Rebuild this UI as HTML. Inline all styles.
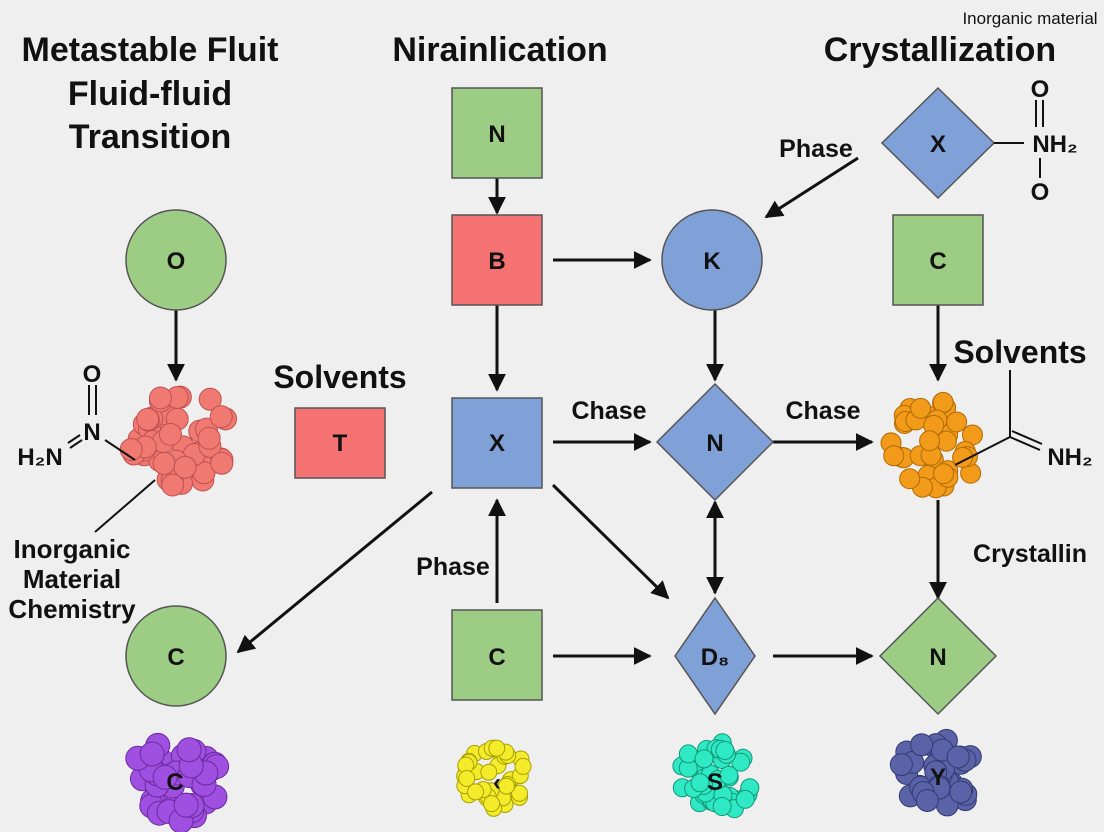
<!DOCTYPE html>
<html><head><meta charset="utf-8"><style>
html,body{margin:0;padding:0;background:#efefef;}
svg{display:block;font-family:"Liberation Sans",sans-serif;font-weight:bold;}
</style></head><body>
<svg id="s" width="1104" height="832" viewBox="0 0 1104 832" xmlns="http://www.w3.org/2000/svg">
<defs>
<marker id="a" viewBox="0 0 10 10" refX="9" refY="5" markerWidth="6" markerHeight="6" orient="auto-start-reverse"><path d="M0,0L10,5L0,10z" fill="#111"/></marker>
</defs>
<rect width="1104" height="832" fill="#efefef"/>
<g font-size="34" text-anchor="middle" fill="#111">
<text x="150" y="61">Metastable Fluit</text>
<text x="150" y="105">Fluid-fluid</text>
<text x="150" y="148">Transition</text>
<text x="500" y="61">Nirainlication</text>
<text x="940" y="61">Crystallization</text>
</g>
<text x="1030" y="24" font-size="17" font-weight="normal" text-anchor="middle" fill="#111">Inorganic material</text>
<g stroke="#111" stroke-width="3" fill="none" marker-end="url(#a)">
<line x1="497" y1="178" x2="497" y2="213"/>
<line x1="553" y1="260" x2="650" y2="260"/>
<line x1="858" y1="158" x2="766" y2="217"/>
<line x1="938" y1="305" x2="938" y2="380"/>
<line x1="938" y1="500" x2="938" y2="598"/>
<line x1="773" y1="656" x2="872" y2="656"/>
<line x1="553" y1="656" x2="650" y2="656"/>
<line x1="497" y1="603" x2="497" y2="500"/>
<line x1="497" y1="305" x2="497" y2="390"/>
<line x1="553" y1="442" x2="650" y2="442"/>
<line x1="715" y1="310" x2="715" y2="380"/>
<line x1="773" y1="442" x2="872" y2="442"/>
<line x1="715" y1="502" x2="715" y2="593" marker-start="url(#a)"/>
<line x1="553" y1="485" x2="668" y2="598"/>
<line x1="432" y1="492" x2="238" y2="652"/>
<line x1="176" y1="310" x2="176" y2="380"/>
</g>
<g stroke="#555" stroke-width="1.5" font-size="24" text-anchor="middle">
<rect x="452" y="88" width="90" height="90" fill="#9dcc84"/>
<rect x="452" y="215" width="90" height="90" fill="#f47272"/>
<circle cx="712" cy="260" r="50" fill="#7fa1d8"/>
<path d="M938,88L994,143L938,198L882,143z" fill="#7fa1d8"/>
<rect x="893" y="215" width="90" height="90" fill="#9dcc84"/>
<path d="M938,598L996,656L938,714L880,656z" fill="#9dcc84"/>
<path d="M715,598L755,656L715,714L675,656z" fill="#7fa1d8"/>
<rect x="452" y="610" width="90" height="90" fill="#9dcc84"/>
<rect x="452" y="398" width="90" height="90" fill="#7fa1d8"/>
<path d="M715,384L773,442L715,500L657,442z" fill="#7fa1d8"/>
<circle cx="176" cy="656" r="50" fill="#9dcc84"/>
<circle cx="176" cy="260" r="50" fill="#9dcc84"/>
<rect x="295" y="408" width="90" height="70" fill="#f47272"/>
</g>
<g font-size="24" text-anchor="middle" fill="#111">
<text x="497" y="142">N</text><text x="497" y="269">B</text><text x="712" y="269">K</text>
<text x="938" y="152">X</text><text x="938" y="269">C</text><text x="938" y="665">N</text>
<text x="715" y="665">D₈</text><text x="497" y="665">C</text><text x="497" y="451">X</text>
<text x="715" y="451">N</text><text x="176" y="665">C</text><text x="176" y="269">O</text>
<text x="340" y="451">T</text>
</g>
<g font-size="25" fill="#111" text-anchor="middle">
<text x="816" y="157">Phase</text>
<text x="609" y="419">Chase</text>
<text x="823" y="419">Chase</text>
<text x="453" y="575">Phase</text>
<text x="1030" y="562">Crystallin</text>
</g>
<g font-size="32" fill="#111" text-anchor="middle">
<text x="340" y="388">Solvents</text>
<text x="1020" y="363">Solvents</text>
</g>
<g font-size="26" fill="#111" text-anchor="middle">
<text x="72" y="558">Inorganic</text>
<text x="72" y="588">Material</text>
<text x="72" y="618">Chemistry</text>
</g>
<g id="cl"></g>
<g stroke="#111" stroke-width="2" fill="none">
<line x1="994" y1="143" x2="1024" y2="143"/>
<line x1="1036" y1="100" x2="1036" y2="127"/><line x1="1043" y1="100" x2="1043" y2="127"/>
<line x1="1040" y1="158" x2="1040" y2="178"/>
<line x1="955" y1="465" x2="1010" y2="437"/>
<line x1="1010" y1="370" x2="1010" y2="437"/>
<line x1="1010" y1="437" x2="1040" y2="450"/><line x1="1012" y1="431" x2="1042" y2="444"/>
<line x1="89" y1="385" x2="89" y2="415"/><line x1="96" y1="385" x2="96" y2="415"/>
<line x1="70" y1="448" x2="82" y2="440"/><line x1="68" y1="443" x2="80" y2="435"/>
<line x1="105" y1="440" x2="135" y2="460"/>
<line x1="95" y1="532" x2="155" y2="480"/>
</g>
<g font-size="24" fill="#111" text-anchor="middle">
<text x="1040" y="97">O</text><text x="1055" y="152">NH₂</text><text x="1040" y="200">O</text>
<text x="1070" y="465">NH₂</text>
<text x="92" y="382">O</text><text x="92" y="440">N</text><text x="40" y="465">H₂N</text>
</g>
<g font-size="24" fill="#111" text-anchor="middle" id="bl">
</g>
</svg>
<script>
var ns="http://www.w3.org/2000/svg",g=document.getElementById('cl');
function cl(cx,cy,R,n,r,fill,stroke,seed){
 var s=seed;function rnd(){s=(s*9301+49297)%233280;return s/233280;}
 for(var i=0;i<n;i++){var a=rnd()*6.283,d=Math.sqrt(rnd())*R;
  var c=document.createElementNS(ns,'circle');c.setAttribute('cx',cx+Math.cos(a)*d);c.setAttribute('cy',cy+Math.sin(a)*d*0.95);
  c.setAttribute('r',r);c.setAttribute('fill',fill);c.setAttribute('stroke',stroke);c.setAttribute('stroke-width',1);g.appendChild(c);}
}
cl(178,437,52,50,11,'#f07a72','#c05050',7);
cl(938,445,50,38,10,'#f29a1a','#b06a00',11);
cl(175,780,45,40,12,'#a050e0','#6a2aa0',3);
cl(497,778,35,40,8,'#f4ec2a','#a8a000',5);
cl(715,778,38,40,9,'#2fe8c4','#109878',9);
cl(938,775,40,35,11,'#5a62a8','#333a70',13);
var b=document.getElementById('bl');
[[175,790,'C'],[497,790,'‹'],[715,790,'S'],[938,785,'Y']].forEach(function(t){var e=document.createElementNS(ns,'text');e.setAttribute('x',t[0]);e.setAttribute('y',t[1]);e.textContent=t[2];b.appendChild(e);});
</script>
</body></html>
